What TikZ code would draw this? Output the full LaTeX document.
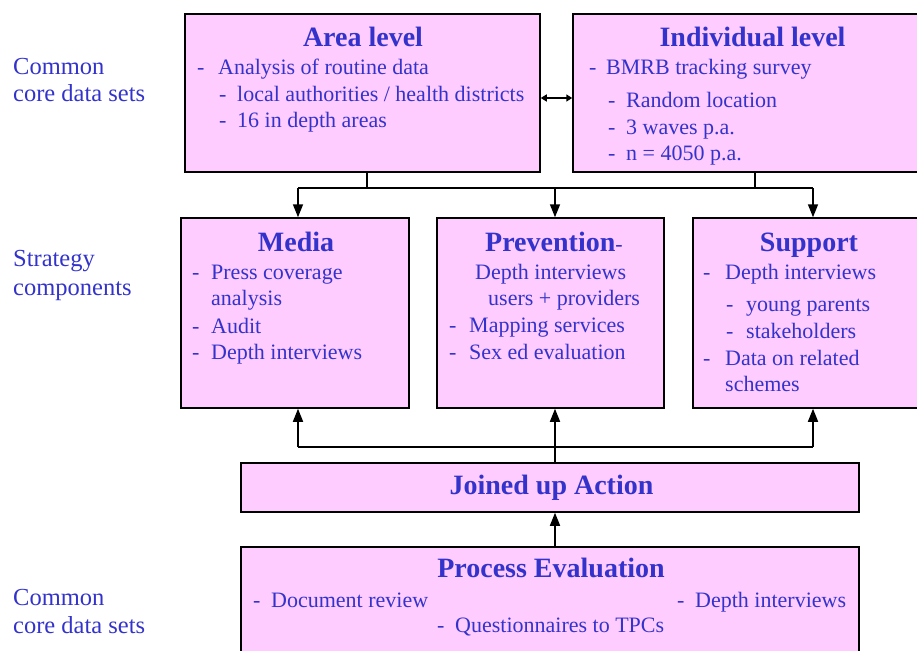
\documentclass[tikz,border=0pt]{standalone}
\usepackage{fontspec}
\setmainfont{Liberation Serif}
\usetikzlibrary{arrows.meta}
\definecolor{txtblue}{RGB}{51,51,204}
\definecolor{boxpink}{RGB}{255,204,255}
\newcommand{\dashgap}[1]{\makebox[#1pt][l]{-}}

\tikzset{
  box/.style={draw=black, line width=1.5pt, fill=boxpink, inner sep=0pt},
  ttl/.style={anchor=base, inner sep=0pt, text=txtblue, font=\fontsize{28}{32}\selectfont\bfseries},
  itm/.style={anchor=base west, inner sep=0pt, text=txtblue, font=\fontsize{22}{26}\selectfont},
  side/.style={anchor=base west, inner sep=0pt, text=txtblue, font=\fontsize{24.5}{28}\selectfont},
  link/.style={line width=1.6pt, black},
}

\begin{document}
\begin{tikzpicture}[x=1pt,y=-1pt, >={Triangle[length=13pt,width=10pt]}]
\useasboundingbox (0,0) rectangle (917,650);

% boxes
\node[box, minimum width=355pt, minimum height=158pt] (area) at (362.5,93) {};
\node[box, minimum width=364pt, minimum height=158pt] (indiv) at (755,93) {};
\node[box, minimum width=228pt, minimum height=190pt] (media) at (295,313) {};
\node[box, minimum width=227pt, minimum height=190pt] (prev) at (550.5,313) {};
\node[box, minimum width=240pt, minimum height=190pt] (supp) at (813,313) {};
\node[box, minimum width=618pt, minimum height=49pt] (joined) at (550,487.5) {};
\node[box, minimum width=618pt, minimum height=113pt] (proc) at (550,603.5) {};

% side labels
\node[side] (s1) at (13,75) {Common};
\node[side] (s2) at (13,102) {core data sets};
\node[side] (s3) at (13,266) {Strategy};
\node[side] (s4) at (13,295) {components};
\node[side] (s5) at (13,605) {Common};
\node[side] (s6) at (13,633) {core data sets};

% area level
\node[ttl] (area-t) at (363,47) {Area level};
\node[itm] (area-1) at (197,75) {\dashgap{21}Analysis of routine data};
\node[itm] (area-2) at (219,102) {\dashgap{18}local authorities / health districts};
\node[itm] (area-3) at (219,128) {\dashgap{18}16 in depth areas};

% individual level
\node[ttl] (indiv-t) at (752.5,47) {Individual level};
\node[itm] (indiv-1) at (589,75) {\dashgap{17}BMRB tracking survey};
\node[itm] (indiv-2) at (608,107) {\dashgap{18}Random location};
\node[itm] (indiv-3) at (608,135) {\dashgap{18}3 waves p.a.};
\node[itm] (indiv-4) at (608,160) {\dashgap{18}n = 4050 p.a.};

% media
\node[ttl] (media-t) at (296,251) {Media};
\node[itm] (media-1) at (192,279) {\dashgap{19}Press coverage};
\node[itm] (media-2) at (211,305) {analysis};
\node[itm] (media-3) at (192,333) {\dashgap{19}Audit};
\node[itm] (media-4) at (192,359) {\dashgap{19}Depth interviews};

% prevention
\node[ttl, anchor=base west] (prev-t) at (485,251) {Prevention{\mdseries\fontsize{22}{26}\selectfont-}};
\node[itm] (prev-1) at (475,279) {Depth interviews};
\node[itm] (prev-2) at (488,305) {users + providers};
\node[itm] (prev-3) at (449,332) {\dashgap{20}Mapping services};
\node[itm] (prev-4) at (449,359) {\dashgap{20}Sex ed evaluation};

% support
\node[ttl] (supp-t) at (809,251) {Support};
\node[itm] (supp-1) at (703,279) {\dashgap{22}Depth interviews};
\node[itm] (supp-2) at (726,311) {\dashgap{20}young parents};
\node[itm] (supp-3) at (726,338) {\dashgap{20}stakeholders};
\node[itm] (supp-4) at (703,365) {\dashgap{22}Data on related};
\node[itm] (supp-5) at (725,391) {schemes};

% joined up action
\node[ttl] (joined-t) at (551.5,494) {Joined up Action};

% process evaluation
\node[ttl] (proc-t) at (551,577) {Process Evaluation};
\node[itm] (proc-1) at (253,607) {\dashgap{18}Document review};
\node[itm] (proc-2) at (677,607) {\dashgap{18}Depth interviews};
\node[itm] (proc-3) at (437,632) {\dashgap{18}Questionnaires to TPCs};

% connectors
\coordinate (topL) at (298,188);
\coordinate (topM) at (555,188);
\coordinate (topR) at (813,188);
\coordinate (lowL) at (298,447);
\coordinate (lowM) at (555,447);
\coordinate (lowR) at (813,447);

\draw[link, {Triangle[length=6pt,width=7pt]}-{Triangle[length=6pt,width=7pt]}] ([yshift=-5pt]area.east) -- ([yshift=-5pt]indiv.west);

\draw[link] ([xshift=4.5pt]area.south) -- ([xshift=4.5pt]area.south |- topL);
\draw[link] (indiv.south) -- (indiv.south |- topR);
\draw[link] (topL) -- (topR);
\draw[link,->] (topL) -- (topL |- media.north);
\draw[link,->] (topM) -- (topM |- prev.north);
\draw[link,->] (topR) -- (supp.north);

\draw[link] (lowL) -- (lowR);
\draw[link] (lowM |- joined.north) -- (lowM);
\draw[link,->] (lowL) -- (lowL |- media.south);
\draw[link,->] (lowM) -- (lowM |- prev.south);
\draw[link,->] (lowR) -- (supp.south);
\draw[link,->] (lowM |- proc.north) -- (lowM |- joined.south);
\end{tikzpicture}
\end{document}
